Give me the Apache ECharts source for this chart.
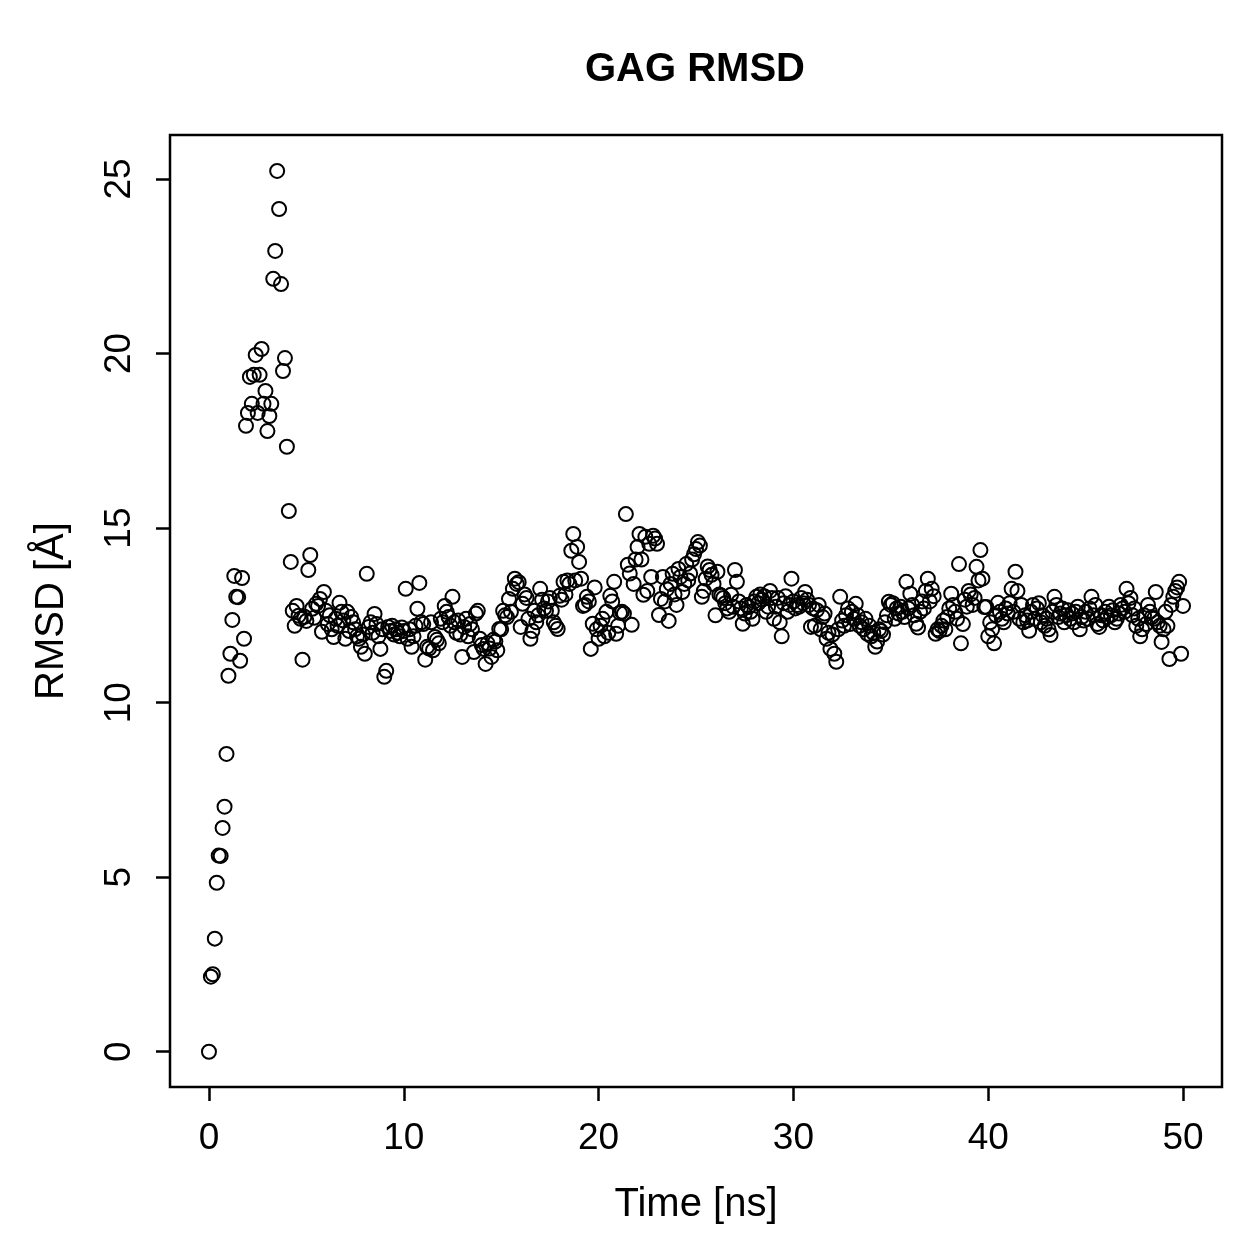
<!DOCTYPE html>
<html>
<head>
<meta charset="utf-8">
<script src="https://cdn.jsdelivr.net/npm/echarts@6/dist/echarts.min.js"></script>
<style>
  html, body { margin: 0; padding: 0; background: #fff; }
  #chart { width: 1259px; height: 1259px; }
</style>
</head>
<body>
<div id="chart"></div>
<script>
// one frame every 0.1 ns, 0 .. 50 ns
var timeStep = 0.1;

// RMSD values (Å), read row by row, 10 frames per ns
var rmsd = [
  0.00, 2.15, 2.22, 3.24, 4.84, 5.62, 5.61, 6.41, 7.02, 8.53,
  10.77, 11.40, 12.37, 13.63, 13.03, 13.02, 11.20, 13.57, 11.83, 17.93,
  18.30, 19.33, 18.56, 19.39, 19.96, 18.30, 19.39, 20.13, 18.56, 18.93,
  17.78, 18.21, 18.56, 22.14, 22.94, 25.23, 24.14, 21.99, 19.50, 19.87,
  17.33, 15.49, 14.03, 12.63, 12.20, 12.77, 12.49, 12.40, 11.23, 12.46,
  12.34, 13.80, 14.23, 12.69, 12.43, 12.83, 12.77, 12.97, 12.03, 13.17,
  12.63, 12.25, 12.50, 12.10, 11.88, 12.40, 12.20, 12.86, 12.60, 12.35,
  11.83, 12.60, 12.05, 12.45, 12.30, 12.10, 11.90, 11.83, 11.60, 11.95,
  11.40, 13.69, 12.17, 12.30, 12.00, 12.54, 12.25, 11.90, 11.54, 12.10,
  10.74, 10.91, 12.17, 12.05, 12.20, 11.95, 12.10, 12.00, 11.90, 12.15,
  12.05, 13.26, 11.83, 12.10, 11.60, 11.90, 12.20, 12.69, 13.43, 12.30,
  12.25, 11.23, 11.60, 11.55, 12.30, 11.50, 11.88, 11.80, 11.70, 12.40,
  12.30, 12.77, 12.60, 12.45, 12.20, 13.03, 12.30, 12.00, 12.35, 11.95,
  11.31, 12.17, 12.40, 11.90, 12.25, 12.10, 11.45, 12.55, 12.63, 11.83,
  11.65, 11.54, 11.11, 11.70, 11.55, 11.31, 11.80, 11.75, 11.50, 12.11,
  12.10, 12.63, 12.50, 12.45, 12.97, 12.60, 13.26, 13.55, 13.40, 13.45,
  12.17, 12.83, 13.10, 13.00, 12.40, 11.83, 12.05, 12.63, 12.30, 12.50,
  13.26, 12.95, 12.70, 12.63, 12.90, 13.00, 12.63, 12.30, 12.20, 12.11,
  13.06, 12.95, 13.46, 13.10, 13.50, 13.40, 14.35, 14.83, 13.50, 14.46,
  14.03, 13.55, 12.77, 12.80, 13.03, 12.90, 11.54, 12.26, 13.30, 12.10,
  11.83, 12.20, 12.40, 11.90, 12.60, 12.00, 13.06, 12.90, 13.46, 11.97,
  12.20, 12.57, 12.60, 12.55, 15.40, 13.95, 13.70, 12.23, 13.40, 14.10,
  14.46, 14.83, 14.10, 13.09, 14.75, 13.20, 14.55, 13.60, 14.78, 14.70,
  14.55, 12.51, 12.97, 13.60, 12.90, 13.25, 12.34, 13.40, 13.69, 13.10,
  12.80, 13.83, 13.60, 13.17, 13.40, 13.97, 13.50, 13.70, 14.10, 14.25,
  14.40, 14.60, 14.50, 13.03, 13.20, 13.55, 13.90, 13.80, 13.66, 13.40,
  12.50, 13.75, 13.10, 13.06, 13.00, 12.85, 12.70, 12.60, 13.09, 12.75,
  13.80, 13.46, 12.90, 12.70, 12.26, 12.55, 12.80, 12.74, 12.60, 12.40,
  12.90, 13.03, 12.85, 13.10, 12.95, 13.05, 12.60, 12.75, 13.20, 13.00,
  12.40, 12.75, 13.00, 12.30, 11.90, 12.85, 13.05, 12.60, 12.80, 13.55,
  12.90, 12.70, 12.80, 12.75, 13.00, 12.85, 13.17, 12.95, 12.80, 12.17,
  12.70, 12.20, 12.65, 12.80, 12.10, 12.45, 12.55, 11.83, 12.00, 11.54,
  11.95, 11.40, 11.17, 12.10, 13.03, 12.35, 12.20, 12.50, 12.70, 12.25,
  12.60, 12.40, 12.83, 12.50, 12.20, 12.30, 12.10, 12.40, 11.97, 12.20,
  11.90, 12.00, 11.60, 11.75, 12.10, 12.05, 11.95, 12.30, 12.50, 12.89,
  12.80, 12.85, 12.40, 12.70, 12.55, 12.75, 12.60, 12.45, 13.46, 12.70,
  13.12, 12.80, 12.50, 12.26, 12.15, 12.60, 12.90, 12.70, 13.20, 13.55,
  12.90, 13.26, 13.05, 11.97, 12.10, 12.05, 12.20, 12.35, 12.10, 12.45,
  12.70, 13.12, 12.80, 12.60, 12.40, 13.97, 11.70, 12.25, 12.95, 12.75,
  13.20, 13.10, 12.80, 13.00, 13.89, 13.50, 14.37, 13.55, 12.74, 12.74,
  11.90, 12.30, 12.10, 11.70, 12.50, 12.86, 12.60, 12.40, 12.30, 12.70,
  12.55, 12.85, 13.26, 12.60, 13.75, 13.20, 12.40, 12.80, 12.30, 12.50,
  12.35, 12.06, 12.60, 12.80, 12.40, 12.70, 12.85, 12.30, 12.50, 12.20,
  12.40, 12.10, 11.94, 12.60, 13.03, 12.80, 12.45, 12.55, 12.70, 12.30,
  12.50, 12.65, 12.40, 12.55, 12.30, 12.60, 12.75, 12.10, 12.45, 12.35,
  12.60, 12.40, 12.70, 13.03, 12.50, 12.80, 12.25, 12.17, 12.50, 12.35,
  12.60, 12.45, 12.75, 12.50, 12.65, 12.30, 12.40, 12.55, 12.80, 12.70,
  12.60, 13.26, 12.85, 13.00, 12.50, 12.70, 12.20, 12.40, 11.90, 12.10,
  12.50, 12.25, 12.80, 12.60, 12.45, 12.40, 13.17, 12.30, 12.20, 11.74,
  12.10, 12.60, 12.20, 11.25, 12.80, 13.03, 13.20, 13.30, 13.46, 11.40,
  12.77
];

var xTicks = [0, 10, 20, 30, 40, 50];
var yTicks = [0, 5, 10, 15, 20, 25];

var points = [];
for (var i = 0; i < rmsd.length; i++) {
  points.push([+(i * timeStep).toFixed(1), rmsd[i]]);
}

var font = 'Liberation Sans, Arial, Helvetica, sans-serif';
var chart = echarts.init(document.getElementById('chart'));

var option = {
  animation: false,
  backgroundColor: '#fff',
  title: {
    text: 'GAG RMSD',
    left: 585,
    top: 50,
    padding: 0,
    textStyle: { fontFamily: font, fontSize: 40, fontWeight: 'bold', color: '#000' }
  },
  grid: {
    left: 170, right: 37, top: 135, bottom: 172,
    show: true, borderColor: '#000', borderWidth: 2.5, backgroundColor: 'transparent'
  },
  xAxis: {
    type: 'value',
    min: -2, max: 52,
    name: 'Time [ns]',
    nameLocation: 'middle',
    nameGap: 98,
    nameTextStyle: { fontFamily: font, fontSize: 40, color: '#000' },
    axisLine: { show: false, onZero: false },
    splitLine: { show: false },
    axisTick: {
      show: true, inside: false, length: 14,
      customValues: xTicks,
      lineStyle: { color: '#000', width: 2.5 }
    },
    axisLabel: {
      customValues: xTicks,
      margin: 33,
      fontFamily: font, fontSize: 37, color: '#000'
    }
  },
  yAxis: {
    type: 'value',
    min: -1.01, max: 26.26,
    name: 'RMSD [Å]',
    nameLocation: 'middle',
    nameGap: 98,
    nameTextStyle: { fontFamily: font, fontSize: 40, color: '#000' },
    axisLine: { show: false, onZero: false },
    splitLine: { show: false },
    axisTick: {
      show: true, inside: false, length: 14,
      customValues: yTicks,
      lineStyle: { color: '#000', width: 2.5 }
    },
    axisLabel: {
      customValues: yTicks,
      rotate: 90,
      margin: 32,
      fontFamily: font, fontSize: 37, color: '#000'
    }
  },
  series: [{
    type: 'scatter',
    data: points,
    symbol: 'circle',
    symbolSize: 14,
    itemStyle: { color: 'rgba(0,0,0,0)', borderColor: '#000', borderWidth: 2, opacity: 1 },
    emphasis: { disabled: true }
  }]
};

chart.setOption(option);
</script>
</body>
</html>
